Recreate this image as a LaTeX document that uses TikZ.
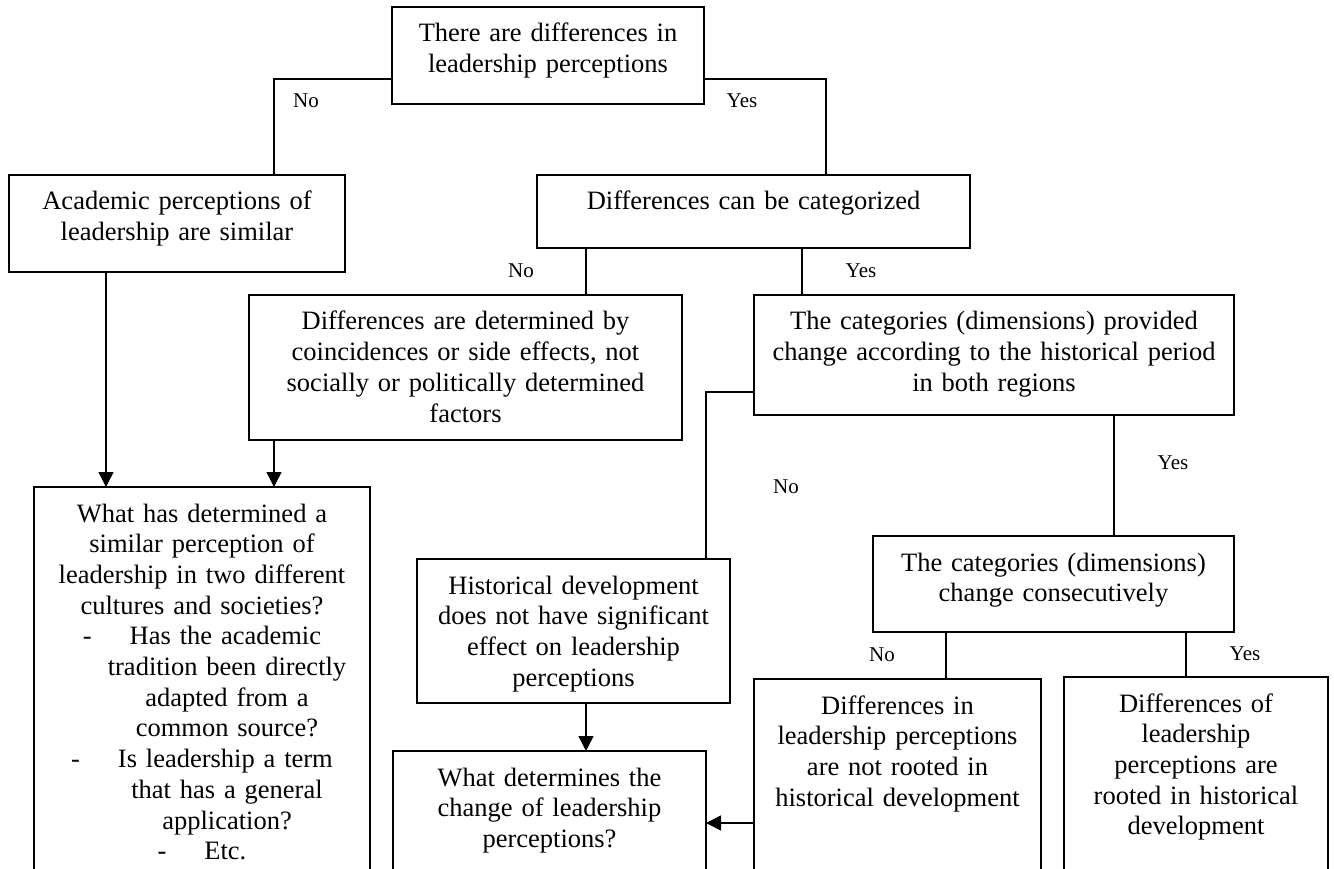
\documentclass[tikz,border=0pt]{standalone}
\usepackage{fontspec}
\setmainfont{Liberation Serif}
\usetikzlibrary{arrows.meta}
\begin{document}
\begin{tikzpicture}[x=1pt,y=-1pt,
  bx/.style={draw, line width=1.8pt, outer sep=0pt, anchor=north west, align=center,
    inner xsep=4pt, inner ysep=13.5pt, text height=21.5pt,
    font=\fontsize{26.5pt}{30.7pt}\selectfont},
  lbl/.style={anchor=base, inner sep=0pt, font=\fontsize{21pt}{24pt}\selectfont},
  ln/.style={line width=1.5pt},
  arr/.style={line width=1.5pt, -{Triangle[width=15pt,length=15pt]}}]
\useasboundingbox (0,0) rectangle (1334,869);
\clip (0,0) rectangle (1334,869);

\node[bx, text width=304pt, text depth=48.5pt] (A) at (392,7) {There are differences in\\leadership perceptions};
\node[bx, text width=328pt, text depth=48.5pt] (B) at (9,175) {Academic perceptions of\\leadership are similar};
\node[bx, text width=425pt, text depth=24.5pt] (C) at (537,175) {Differences can be categorized};
\node[bx, text width=425pt, text depth=96.5pt] (D) at (249,295) {Differences are determined by\\coincidences or side effects, not\\socially or politically determined\\factors};
\node[bx, text width=472pt, text depth=71.5pt] (E) at (754,295) {The categories (dimensions) provided\\change according to the historical period\\in both regions};
\node[bx, text width=328pt, text depth=400pt] (F) at (34,487) {What has determined a\\similar perception of\\leadership in two different\\cultures and societies?\\-\hspace{38pt}Has the academic\\\hspace*{50pt}tradition been directly\\\hspace*{50pt}adapted from a\\\hspace*{50pt}common source?\\-\hspace{38pt}Is leadership a term\\\hspace*{50pt}that has a general\\\hspace*{50pt}application?\\-\hspace{38pt}Etc.};
\node[bx, text width=305pt, text depth=95.5pt] (G) at (417,559) {Historical development\\does not have significant\\effect on leadership\\perceptions};
\node[bx, text width=353pt, text depth=47.5pt] (H) at (873,536) {The categories (dimensions)\\change consecutively};
\node[bx, text width=305pt, text depth=150pt] (I) at (393,751) {What determines the\\change of leadership\\perceptions?};
\node[bx, text width=279pt, text depth=200pt] (J) at (754,679) {Differences in\\leadership perceptions\\are not rooted in\\historical development};
\node[bx, text width=256pt, text depth=200pt] (K) at (1064,677) {Differences of\\leadership\\perceptions are\\rooted in historical\\development};

\node[lbl] (l1) at (306,108) {No};
\node[lbl] (l2) at (742,108) {Yes};
\node[lbl] (l3) at (521,277) {No};
\node[lbl] (l4) at (861,277) {Yes};
\node[lbl] (l5) at (786,493) {No};
\node[lbl] (l6) at (1173,469) {Yes};
\node[lbl] (l7) at (882,661) {No};
\node[lbl] (l8) at (1245,660) {Yes};

\draw[ln] ([yshift=25pt]A.south west) -| ([xshift=265pt]B.north west);
\draw[ln] ([yshift=25pt]A.south east) -| ([xshift=289pt]C.north west);
\coordinate (dT) at ([xshift=337pt]D.north west);
\draw[ln] (C.south -| dT) -- (dT);
\coordinate (eT) at ([xshift=48pt]E.north west);
\draw[ln] (C.south -| eT) -- (eT);
\coordinate (fT1) at ([xshift=72pt]F.north west);
\draw[arr] (B.south -| fT1) -- (fT1);
\coordinate (fT2) at ([xshift=240pt]F.north west);
\draw[arr] (D.south -| fT2) -- (fT2);
\draw[ln] ([yshift=23pt]E.south west) -| ([xshift=289pt]G.north west);
\coordinate (hT) at ([xshift=241pt]H.north west);
\draw[ln] (E.south -| hT) -- (hT);
\coordinate (iT) at ([xshift=193pt]I.north west);
\draw[arr] (G.south -| iT) -- (iT);
\coordinate (jT) at ([xshift=192pt]J.north west);
\draw[ln] (H.south -| jT) -- (jT);
\coordinate (kT) at ([xshift=122pt]K.north west);
\draw[ln] (H.south -| kT) -- (kT);
\coordinate (jW) at ([yshift=-144pt]J.north west);
\draw[arr] (jW) -- (jW -| I.east);
\end{tikzpicture}
\end{document}
